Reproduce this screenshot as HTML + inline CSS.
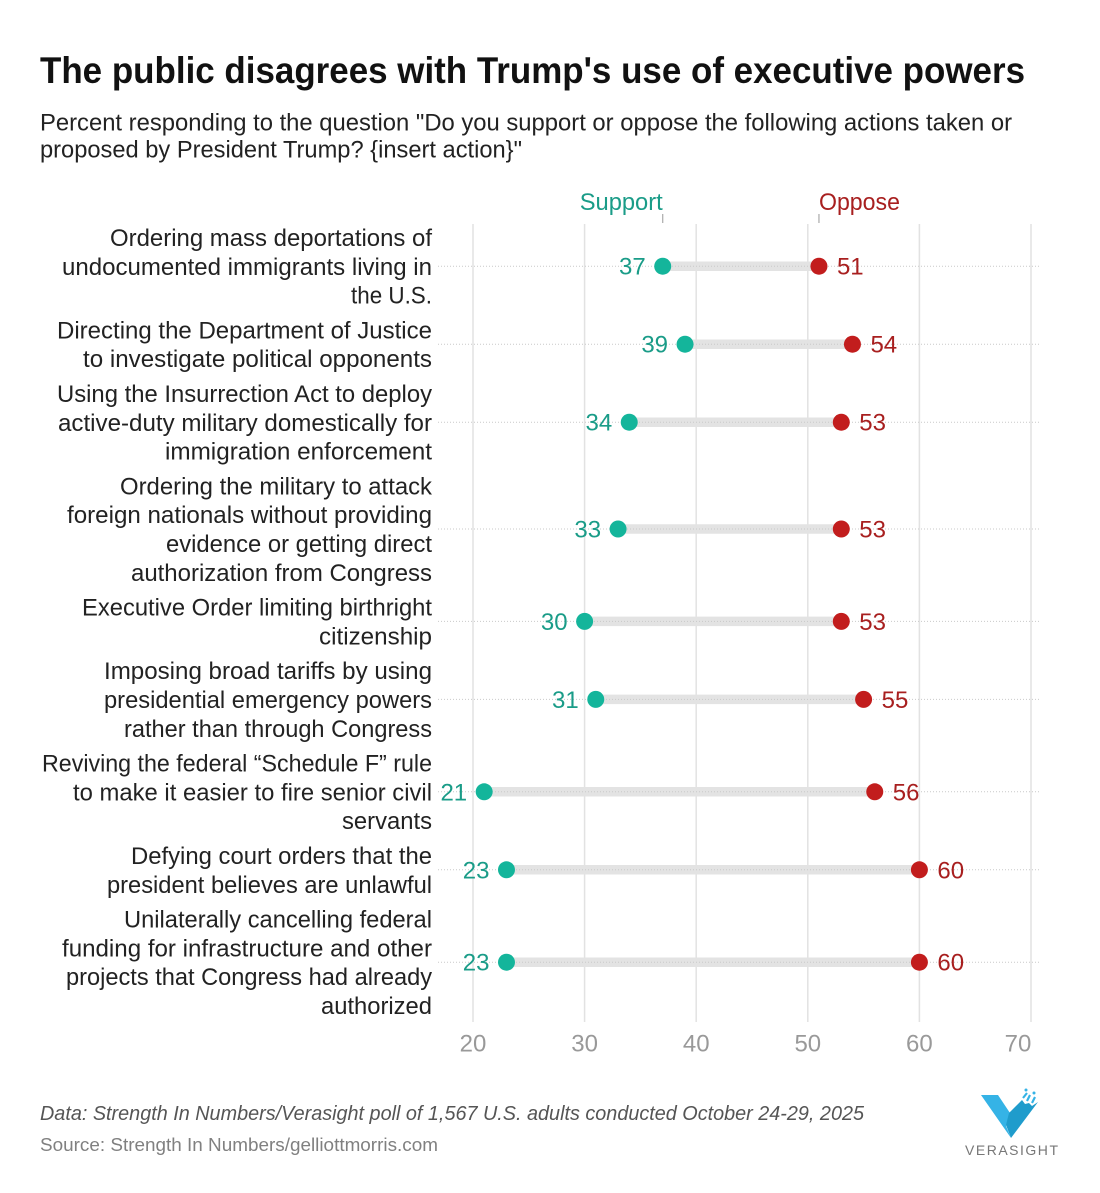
<!DOCTYPE html>
<html lang="en">
<head>
<meta charset="utf-8">
<title>The public disagrees with Trump's use of executive powers</title>
<style>
html,body{margin:0;padding:0;background:#fff;}
body{width:1100px;height:1193px;overflow:hidden;font-family:"Liberation Sans",sans-serif;}
svg{display:block;}
svg text{font-family:"Liberation Sans",sans-serif;}
</style>
</head>
<body>
<svg id="chart" width="1100" height="1193" viewBox="0 0 1100 1193" xmlns="http://www.w3.org/2000/svg">
  <rect width="1100" height="1193" fill="#ffffff"/>
  <text x="40" y="83" font-size="37" font-weight="700" fill="#111" textLength="985" lengthAdjust="spacingAndGlyphs">The public disagrees with Trump's use of executive powers</text>
  <text x="40" y="130.5" font-size="24" fill="#222" textLength="972" lengthAdjust="spacingAndGlyphs">Percent responding to the question "Do you support or oppose the following actions taken or</text>
  <text x="40" y="157.5" font-size="24" fill="#222" textLength="482" lengthAdjust="spacingAndGlyphs">proposed by President Trump? {insert action}"</text>
  <g id="grid"></g>
  <g id="rows"></g>
  <g id="labels"></g>
  <g id="axis"></g>
  <g id="legend"></g>
  <text x="40" y="1120" font-size="20" font-style="italic" fill="#555" textLength="824" lengthAdjust="spacingAndGlyphs">Data: Strength In Numbers/Verasight poll of 1,567 U.S. adults conducted October 24-29, 2025</text>
  <text x="40" y="1151" font-size="18" fill="#808080" textLength="398" lengthAdjust="spacingAndGlyphs">Source: Strength In Numbers/gelliottmorris.com</text>
  <g>
    <polygon points="981,1095 998,1095 1012,1116 1006,1126 1011,1138" fill="#35b3e6"/>
    <polygon points="1011,1138 1006,1125 1009,1113 1022,1100 1025,1104 1029,1103 1032,1106 1038,1102" fill="#1f9ccc"/>
    <circle cx="1026" cy="1090" r="1.5" fill="#35b3e6"/>
    <circle cx="1034" cy="1093" r="1.5" fill="#35b3e6"/>
    <line x1="1023" y1="1098" x2="1027" y2="1093" stroke="#35b3e6" stroke-width="2.2"/>
    <line x1="1027" y1="1101" x2="1030" y2="1095" stroke="#35b3e6" stroke-width="2.2"/>
    <line x1="1032" y1="1103" x2="1035" y2="1097" stroke="#35b3e6" stroke-width="2.2"/>
    <text x="965" y="1155" font-size="14" fill="#777" textLength="93" lengthAdjust="spacing">VERASIGHT</text>
  </g>
</svg>
<script>
var categories = [
  "Ordering mass deportations of|undocumented immigrants living in|the U.S.",
  "Directing the Department of Justice|to investigate political opponents",
  "Using the Insurrection Act to deploy|active-duty military domestically for|immigration enforcement",
  "Ordering the military to attack|foreign nationals without providing|evidence or getting direct|authorization from Congress",
  "Executive Order limiting birthright|citizenship",
  "Imposing broad tariffs by using|presidential emergency powers|rather than through Congress",
  "Reviving the federal \u201cSchedule F\u201d rule|to make it easier to fire senior civil|servants",
  "Defying court orders that the|president believes are unlawful",
  "Unilaterally cancelling federal|funding for infrastructure and other|projects that Congress had already|authorized"
];
var supportValues = [37, 39, 34, 33, 30, 31, 21, 23, 23];
var opposeValues = [51, 54, 53, 53, 53, 55, 56, 60, 60];
var tickValues = [20, 30, 40, 50, 60, 70];

var NS = 'http://www.w3.org/2000/svg';
var GREEN = '#14b59b', RED = '#c21d1d', GREEN_TEXT = '#1a9c88', RED_TEXT = '#a81f1f';
var LINE_H = 28.8, ROW_GAP = 6, TOP = 223;
// Typographic fit: rendered width of each wrapped label line, to match the reference's metrics.
var lineFit = [322,370,81, 375,349, 375,374,267, 312,365,266,301, 350,113, 328,328,308, 390,359,90, 301,325, 308,370,366,111];
var lineFitIndex = 0;

function xScale(v) { return 473 + (v - 20) * 11.16; }
function make(tag, attrs, parent, text) {
  var el = document.createElementNS(NS, tag);
  for (var k in attrs) el.setAttribute(k, attrs[k]);
  if (text !== undefined) el.textContent = text;
  parent.appendChild(el);
  return el;
}
var grid = document.getElementById('grid');
var axis = document.getElementById('axis');
var rows = document.getElementById('rows');
var labels = document.getElementById('labels');
var legend = document.getElementById('legend');

tickValues.forEach(function (t) {
  var g = make('line', {x1: xScale(t), x2: xScale(t), y1: 224, y2: 1022, stroke: '#e2e2e2', 'stroke-width': 1.5}, grid);
  
  
  var anchorX = t === 70 ? xScale(t) - 13 : xScale(t);
  var tl = make('text', {x: anchorX, y: 1051.5, 'font-size': 24, fill: '#999', 'text-anchor': 'middle'}, axis, String(t));
  
  
});

var top_ = TOP;
categories.forEach(function (cat, i) {
  var lines = cat.split('|');
  var h = lines.length * LINE_H;
  var cy = top_ + h / 2;
  var s = supportValues[i], o = opposeValues[i];

  var bar = make('line', {x1: xScale(s), x2: xScale(o), y1: cy, y2: cy, stroke: '#e3e3e3', 'stroke-width': 9.5}, rows);
  
  
  var rule = make('line', {x1: 438, x2: 1040, y1: cy, y2: cy, stroke: '#c9c9c9', 'stroke-width': 1, 'stroke-dasharray': '1 2'}, rows);
  
  
  var sd = make('circle', {cx: xScale(s), cy: cy, r: 8.5, fill: GREEN}, rows);
  
  
  var od = make('circle', {cx: xScale(o), cy: cy, r: 8.5, fill: RED}, rows);
  
  
  var sl = make('text', {x: xScale(s) - 17, y: cy + 8.5, 'font-size': 24, fill: GREEN_TEXT, 'text-anchor': 'end'}, rows, String(s));
  
  
  var ol = make('text', {x: xScale(o) + 18, y: cy + 8.5, 'font-size': 24, fill: RED_TEXT}, rows, String(o));
  
  

  lines.forEach(function (line, j) {
    var t = make('text', {x: 432, y: top_ + LINE_H * j + 23, 'font-size': 24, fill: '#222', 'text-anchor': 'end'}, labels, line);
    
    
    t.setAttribute('textLength', lineFit[lineFitIndex++]);
    t.setAttribute('lengthAdjust', 'spacingAndGlyphs');
  });
  top_ += h + ROW_GAP;
});

var firstS = xScale(supportValues[0]), firstO = xScale(opposeValues[0]);
var sh = make('text', {x: firstS, y: 210, 'font-size': 24, fill: GREEN_TEXT, 'text-anchor': 'end', textLength: 83, lengthAdjust: 'spacingAndGlyphs'}, legend, 'Support');


var oh = make('text', {x: firstO, y: 210, 'font-size': 24, fill: RED_TEXT, textLength: 81, lengthAdjust: 'spacingAndGlyphs'}, legend, 'Oppose');


var st = make('line', {x1: firstS, x2: firstS, y1: 214, y2: 223, stroke: '#aaa', 'stroke-width': 1.2}, legend);


var ot = make('line', {x1: firstO, x2: firstO, y1: 214, y2: 223, stroke: '#aaa', 'stroke-width': 1.2}, legend);


</script>
</body>
</html>
